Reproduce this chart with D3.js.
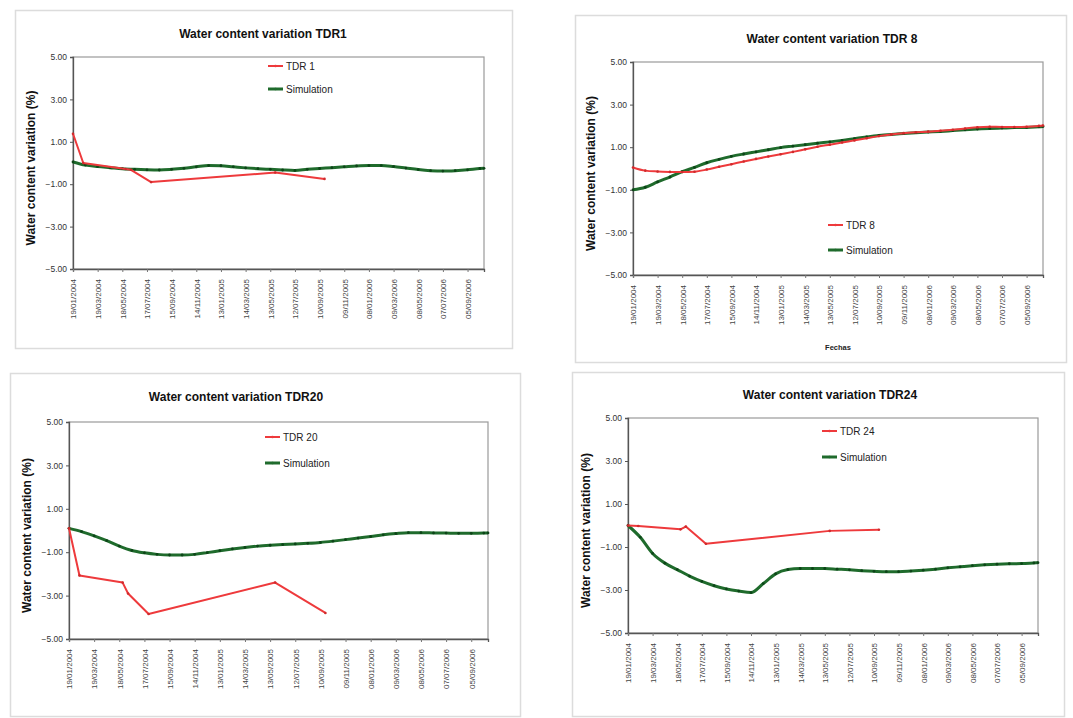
<!DOCTYPE html>
<html>
<head>
<meta charset="utf-8">
<script src="https://cdn.jsdelivr.net/npm/d3@7"></script>
<style>
  html, body { margin: 0; padding: 0; background: #ffffff; }
  svg { display: block; font-family: "Liberation Sans", Arial, sans-serif; }
</style>
</head>
<body>
<svg id="chart" width="1073" height="718"></svg>
<script>
// Axis ticks shared by the four charts
const X_TICK_LABELS = ["19/01/2004","19/03/2004","18/05/2004","17/07/2004","15/09/2004","14/11/2004",
  "13/01/2005","14/03/2005","13/05/2005","12/07/2005","10/09/2005","09/11/2005","08/01/2006",
  "09/03/2006","08/05/2006","07/07/2006","05/09/2006"];
const Y_TICKS = [-5, -3, -1, 1, 3, 5];
const X_START = "19/01/2004";
const X_END = "15/10/2006";

// Simulation output dates (also used for the continuous TDR 8 record)
const SIM_DATES = ["19/01/2004","18/02/2004","19/03/2004","18/04/2004","18/05/2004","17/06/2004",
  "17/07/2004","16/08/2004","15/09/2004","15/10/2004","14/11/2004","14/12/2004","13/01/2005",
  "12/02/2005","14/03/2005","13/04/2005","13/05/2005","12/06/2005","12/07/2005","11/08/2005",
  "10/09/2005","10/10/2005","09/11/2005","09/12/2005","08/01/2006","07/02/2006","09/03/2006",
  "08/04/2006","08/05/2006","07/06/2006","07/07/2006","06/08/2006","05/09/2006","05/10/2006",
  "15/10/2006"];

// Field measurement dates of the probes
const MEAS_DATES = ["19/01/2004","13/02/2004","26/05/2004","08/06/2004","27/07/2004","25/05/2005","22/09/2005"];

// TDR 1
const TDR1_VALUES = [1.38, 0.0, -0.28, -0.32, -0.9, -0.45, -0.75];
const SIM1_VALUES = [0.05,-0.1,-0.17,-0.22,-0.27,-0.3,-0.32,-0.33,-0.3,-0.25,-0.18,-0.12,-0.13,
  -0.18,-0.23,-0.27,-0.3,-0.33,-0.35,-0.3,-0.26,-0.22,-0.18,-0.14,-0.12,-0.12,-0.17,-0.24,-0.31,
  -0.36,-0.38,-0.36,-0.32,-0.26,-0.25];

// TDR 8
const TDR8_VALUES = [0.05,-0.1,-0.14,-0.16,-0.17,-0.15,-0.05,0.08,0.2,0.33,0.45,0.56,0.67,0.78,
  0.9,1.02,1.12,1.22,1.32,1.42,1.52,1.6,1.66,1.7,1.73,1.77,1.82,1.88,1.94,1.96,1.95,1.95,1.96,2.0,2.02];
const SIM8_VALUES = [-1.0,-0.88,-0.63,-0.4,-0.15,0.05,0.27,0.43,0.57,0.68,0.78,0.88,0.98,1.05,1.12,
  1.19,1.25,1.32,1.4,1.48,1.55,1.6,1.64,1.68,1.71,1.74,1.78,1.82,1.85,1.88,1.9,1.92,1.93,1.96,1.97];

// TDR 20
const TDR20_VALUES = [0.1, -2.07, -2.4, -2.9, -3.85, -2.4, -3.8];
const SIM20_VALUES = [0.1,-0.05,-0.25,-0.47,-0.72,-0.92,-1.03,-1.1,-1.13,-1.13,-1.1,-1.02,-0.93,
  -0.85,-0.78,-0.72,-0.68,-0.65,-0.62,-0.59,-0.55,-0.49,-0.42,-0.35,-0.28,-0.2,-0.14,-0.1,-0.1,
  -0.11,-0.12,-0.13,-0.13,-0.12,-0.11];

// TDR 24
const TDR24_VALUES = [0.0, -0.02, -0.18, -0.05, -0.85, -0.25, -0.2];
const SIM24_VALUES = [0.0,-0.55,-1.3,-1.75,-2.05,-2.35,-2.6,-2.8,-2.95,-3.05,-3.12,-2.7,-2.25,
  -2.05,-2.0,-2.0,-2.0,-2.03,-2.06,-2.1,-2.13,-2.15,-2.15,-2.12,-2.08,-2.03,-1.97,-1.92,-1.87,
  -1.83,-1.8,-1.78,-1.77,-1.74,-1.73];

const parse = d3.timeParse("%d/%m/%Y");
const fmtY = d3.format(".2f");
const RED = "#ee3a3c";
const GREEN = "#1f6b2c";

const svg = d3.select("#chart");

const panels = [
  { title: "Water content variation TDR1", frame: [15, 10, 512, 348], plot: [73, 57, 484, 269],
    titleX: 263, titleY: 38, legend: [268, 66, 89], obsName: "TDR 1",
    obs: { dates: MEAS_DATES, values: TDR1_VALUES }, sim: SIM1_VALUES, xTitle: null, smoothObs: false },
  { title: "Water content variation TDR 8", frame: [575, 15, 1066, 362], plot: [633, 62, 1043, 275],
    titleX: 832, titleY: 43, legend: [828, 225, 250], obsName: "TDR 8",
    obs: { dates: SIM_DATES, values: TDR8_VALUES }, sim: SIM8_VALUES, xTitle: "Fechas", smoothObs: true },
  { title: "Water content variation TDR20", frame: [10, 373, 520, 716], plot: [69, 422, 488, 639],
    titleX: 236, titleY: 401, legend: [265, 437, 463], obsName: "TDR 20",
    obs: { dates: MEAS_DATES, values: TDR20_VALUES }, sim: SIM20_VALUES, xTitle: null, smoothObs: false },
  { title: "Water content variation TDR24", frame: [572, 372, 1064, 716], plot: [628, 418, 1038, 633],
    titleX: 830, titleY: 399, legend: [822, 431, 457], obsName: "TDR 24",
    obs: { dates: MEAS_DATES, values: TDR24_VALUES }, sim: SIM24_VALUES, xTitle: null, smoothObs: false }
];

panels.forEach(drawPanel);

function drawPanel(p) {
  const [fl, ft, fr, fb] = p.frame;
  const [pl, pt, pr, pb] = p.plot;
  const g = svg.append("g");

  // chart area frame
  g.append("rect").attr("x", fl + 0.5).attr("y", ft + 0.5)
    .attr("width", fr - fl).attr("height", fb - ft)
    .attr("fill", "#ffffff").attr("stroke", "#dcdcdc").attr("stroke-width", 1.5);

  const x = d3.scaleTime().domain([parse(X_START), parse(X_END)]).range([pl, pr]);
  const y = d3.scaleLinear().domain([-5, 5]).range([pb, pt]);

  // plot area border
  g.append("rect").attr("x", pl).attr("y", pt).attr("width", pr - pl).attr("height", pb - pt)
    .attr("fill", "#ffffff").attr("stroke", "#9a9a9a").attr("stroke-width", 1.2);

  // title
  g.append("text").attr("x", p.titleX).attr("y", p.titleY)
    .attr("text-anchor", "middle").attr("font-size", 12).attr("font-weight", "bold")
    .attr("fill", "#111").text(p.title);

  // y axis
  const yAxis = d3.axisLeft(y).tickValues(Y_TICKS).tickFormat(fmtY).tickSize(3).tickPadding(3);
  const ya = g.append("g").attr("transform", `translate(${pl},0)`).call(yAxis);
  ya.select(".domain").attr("stroke", "#555").attr("stroke-width", 1.3);
  ya.selectAll(".tick line").attr("stroke", "#555");
  ya.selectAll(".tick text").attr("font-size", 8.5).attr("fill", "#333")
    .attr("font-family", "'Liberation Sans', Arial, sans-serif");

  // y axis title
  g.append("text")
    .attr("transform", `translate(${pl - 38},${(pt + pb) / 2 + 5}) rotate(-90)`)
    .attr("text-anchor", "middle").attr("font-size", 12).attr("font-weight", "bold")
    .attr("fill", "#111").text("Water content variation (%)");

  // x axis
  const xAxis = d3.axisBottom(x).tickValues(X_TICK_LABELS.map(parse))
    .tickFormat(d3.timeFormat("%d/%m/%Y")).tickSize(3).tickPadding(4);
  const xa = g.append("g").attr("transform", `translate(0,${pb})`).call(xAxis);
  xa.select(".domain").attr("stroke", "#555").attr("stroke-width", 1.3);
  xa.selectAll(".tick line").attr("stroke", "#777");
  xa.selectAll(".tick text")
    .attr("font-size", 8).attr("fill", "#444")
    .attr("font-family", "'Liberation Sans', Arial, sans-serif")
    .attr("text-anchor", "end")
    .attr("dy", "0.35em")
    .attr("transform", "translate(0,4) rotate(-90)")
    .attr("x", -6).attr("y", 0);

  if (p.xTitle) {
    g.append("text").attr("x", (pl + pr) / 2).attr("y", pb + 75)
      .attr("text-anchor", "middle").attr("font-size", 7.5).attr("font-weight", "bold")
      .attr("fill", "#222").text(p.xTitle);
  }

  const smoothLine = d3.line().curve(d3.curveMonotoneX).x(d => x(d.date)).y(d => y(d.value));
  const straightLine = d3.line().x(d => x(d.date)).y(d => y(d.value));

  // simulated series
  const simData = SIM_DATES.map((d, i) => ({ date: parse(d), value: p.sim[i] }));
  g.append("path").datum(simData).attr("d", smoothLine)
    .attr("fill", "none").attr("stroke", GREEN).attr("stroke-width", 3)
    .attr("stroke-linejoin", "round");
  g.append("g").selectAll("circle").data(simData).join("circle")
    .attr("cx", d => x(d.date)).attr("cy", d => y(d.value)).attr("r", 1.4)
    .attr("fill", "#0d4418");

  // measured series
  const obsData = p.obs.dates.map((d, i) => ({ date: parse(d), value: p.obs.values[i] }));
  g.append("path").datum(obsData).attr("d", p.smoothObs ? smoothLine : straightLine)
    .attr("fill", "none").attr("stroke", RED).attr("stroke-width", 2)
    .attr("stroke-linejoin", "round");
  g.append("g").selectAll("circle").data(obsData).join("circle")
    .attr("cx", d => x(d.date)).attr("cy", d => y(d.value)).attr("r", 1.3)
    .attr("fill", "#d02a2c");

  // legend
  const [lx, ly1, ly2] = p.legend;
  const items = [
    { name: p.obsName, color: RED, w: 2, y: ly1 },
    { name: "Simulation", color: GREEN, w: 3, y: ly2 }
  ];
  items.forEach(it => {
    g.append("line").attr("x1", lx).attr("x2", lx + 15).attr("y1", it.y).attr("y2", it.y)
      .attr("stroke", it.color).attr("stroke-width", it.w);
    g.append("circle").attr("cx", lx + 7.5).attr("cy", it.y).attr("r", 1.3).attr("fill", it.color);
    g.append("text").attr("x", lx + 18).attr("y", it.y + 3.5)
      .attr("font-size", 10).attr("fill", "#222").text(it.name);
  });
}
</script>
</body>
</html>
